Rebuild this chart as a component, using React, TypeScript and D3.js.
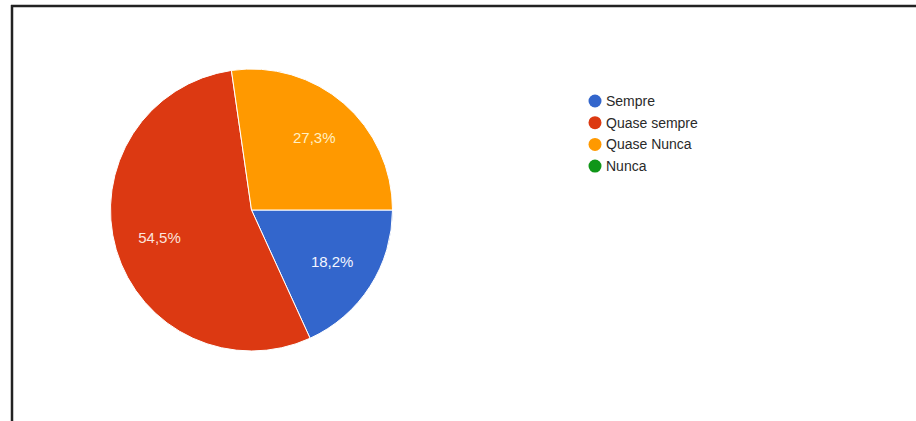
import React from "react";
import * as d3 from "d3";

const categories = ["Sempre", "Quase sempre", "Quase Nunca", "Nunca"];
const values = [2, 6, 3, 0];
const colors = ["#3366cc", "#dc3912", "#ff9900", "#109618"];
const labelColors = ["#f4f7ff", "#fbe3dc", "#fff0c4", "#ffffff"];

const W = 916;
const H = 421;

export default function App() {
  const cx = 251.5;
  const cy = 210;
  const r = 141;
  const total = d3.sum(values);
  const pie = d3
    .pie<number>()
    .sort(null)
    .startAngle(Math.PI / 2)
    .endAngle(Math.PI / 2 + 2 * Math.PI)
    .value((d) => d);
  const arcs = pie(values);
  const arc = d3.arc<d3.PieArcDatum<number>>().innerRadius(0).outerRadius(r);
  const labelArc = d3
    .arc<d3.PieArcDatum<number>>()
    .innerRadius(r * 0.68)
    .outerRadius(r * 0.68);
  const fmt = (v: number) =>
    ((v / total) * 100).toFixed(1).replace(".", ",") + "%";

  const legendX = 595;
  const legendY = 101;
  const legendStep = 21.7;

  return (
    <svg
      width={W}
      height={H}
      style={{ position: "absolute", left: 0, top: 0, display: "block" }}
      fontFamily="Arial, 'Liberation Sans', sans-serif"
    >
      <rect x={0} y={0} width={W} height={H} fill="#ffffff" />
      <line x1={11} y1={6} x2={W} y2={6} stroke="#222" strokeWidth={2.5} />
      <line x1={12} y1={5} x2={12} y2={H} stroke="#222" strokeWidth={2.5} />
      <g transform={`translate(${cx},${cy})`}>
        {arcs.map((a, i) =>
          a.value > 0 ? (
            <path
              key={i}
              d={arc(a) || ""}
              fill={colors[i]}
              stroke="#ffffff"
              strokeWidth={1}
            />
          ) : null
        )}
        {arcs.map((a, i) => {
          if (a.value <= 0) return null;
          const [lx, ly] = labelArc.centroid(a);
          return (
            <text
              key={"l" + i}
              x={lx}
              y={ly}
              textAnchor="middle"
              dominantBaseline="central"
              fontSize={15}
              fill={labelColors[i]}
            >
              {fmt(a.value)}
            </text>
          );
        })}
      </g>
      {categories.map((c, i) => (
        <g key={c} transform={`translate(${legendX},${legendY + i * legendStep})`}>
          <circle cx={0} cy={0} r={6.5} fill={colors[i]} />
          <text
            x={11}
            y={0}
            dominantBaseline="central"
            fontSize={14}
            fill="#2a2a2a"
          >
            {c}
          </text>
        </g>
      ))}
    </svg>
  );
}
